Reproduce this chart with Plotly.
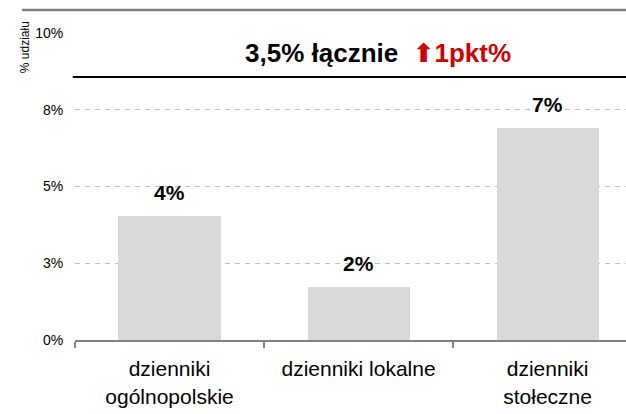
import plotly.graph_objects as go

categories = ["dzienniki<br>ogólnopolskie", "dzienniki lokalne", "dzienniki<br>stołeczne"]
values = [4.03, 1.72, 6.92]
value_labels = ["4%", "2%", "7%"]
tick_vals = [0, 2.5, 5, 7.5, 10]
tick_text = ["0%", "3%", "5%", "8%", "10%"]
total_line_level = 8.57
title_main = "3,5% łącznie"
title_change = "1pkt%"
y_title = "% udziału"

FONT = "Liberation Sans, Arial, sans-serif"

fig = go.Figure()
fig.add_trace(go.Bar(
    x=categories, y=values, width=0.54,
    marker=dict(color="#d9d9d9", line=dict(width=0)),
    hoverinfo="skip",
))

for c, v, t in zip(categories, values, value_labels):
    fig.add_annotation(x=c, y=v, text=f"<b>{t}</b>", showarrow=False,
                       xref="x", yref="y", yanchor="bottom", yshift=10,
                       font=dict(family=FONT, size=21, color="#000000"))

fig.add_annotation(
    x=0.55, y=0.935, xref="paper", yref="paper", showarrow=False,
    xanchor="center", yanchor="middle",
    text=(f"<b>{title_main}\u00a0\u00a0<span style='color:#cc0000;font-family:DejaVu Sans'>⬆</span>"
          f"<span style='color:#cc0000'>{title_change}</span></b>"),
    font=dict(family=FONT, size=26, color="#000000"),
)

fig.add_annotation(
    x=-0.0907, y=0.954, xref="paper", yref="paper", showarrow=False,
    xanchor="center", yanchor="middle", textangle=-90,
    text=y_title, font=dict(family=FONT, size=12, color="#000000"),
)

# black total line
fig.add_shape(type="line", xref="paper", yref="y", x0=-0.004, x1=1.0,
              y0=total_line_level, y1=total_line_level,
              line=dict(color="#000000", width=2))
# top gray border line
fig.add_shape(type="line", xref="paper", yref="paper", x0=-0.096, x1=1.0,
              y0=1.075, y1=1.075, line=dict(color="#7f7f7f", width=2.5))

fig.update_layout(
    width=626, height=414,
    margin=dict(l=75, r=0, t=33, b=74),
    paper_bgcolor="white", plot_bgcolor="white",
    showlegend=False,
    bargap=0,
    font=dict(family=FONT, color="#000000"),
    xaxis=dict(
        type="category", range=[-0.5, 2.415],
        showline=True, linecolor="#808080", linewidth=2,
        ticks="outside", tickson="boundaries", ticklen=6, tickwidth=1.5,
        tickcolor="#808080", showgrid=False, zeroline=False,
        ticklabelstandoff=9,
        tickfont=dict(family=FONT, size=21, color="#000000"),
    ),
    yaxis=dict(
        range=[0, 10], tickvals=tick_vals, ticktext=tick_text,
        showline=False, zeroline=False,
        showgrid=True, gridcolor="#c0c0c0", gridwidth=1, griddash="5px,5px",
        ticks="outside", ticklen=8, tickcolor="rgba(0,0,0,0)",
        tickfont=dict(family=FONT, size=14, color="#000000"),
    ),
)

fig.write_html("out.html", config={"displayModeBar": False},
               post_script="document.body.style.margin='0';document.body.style.overflow='hidden';")
